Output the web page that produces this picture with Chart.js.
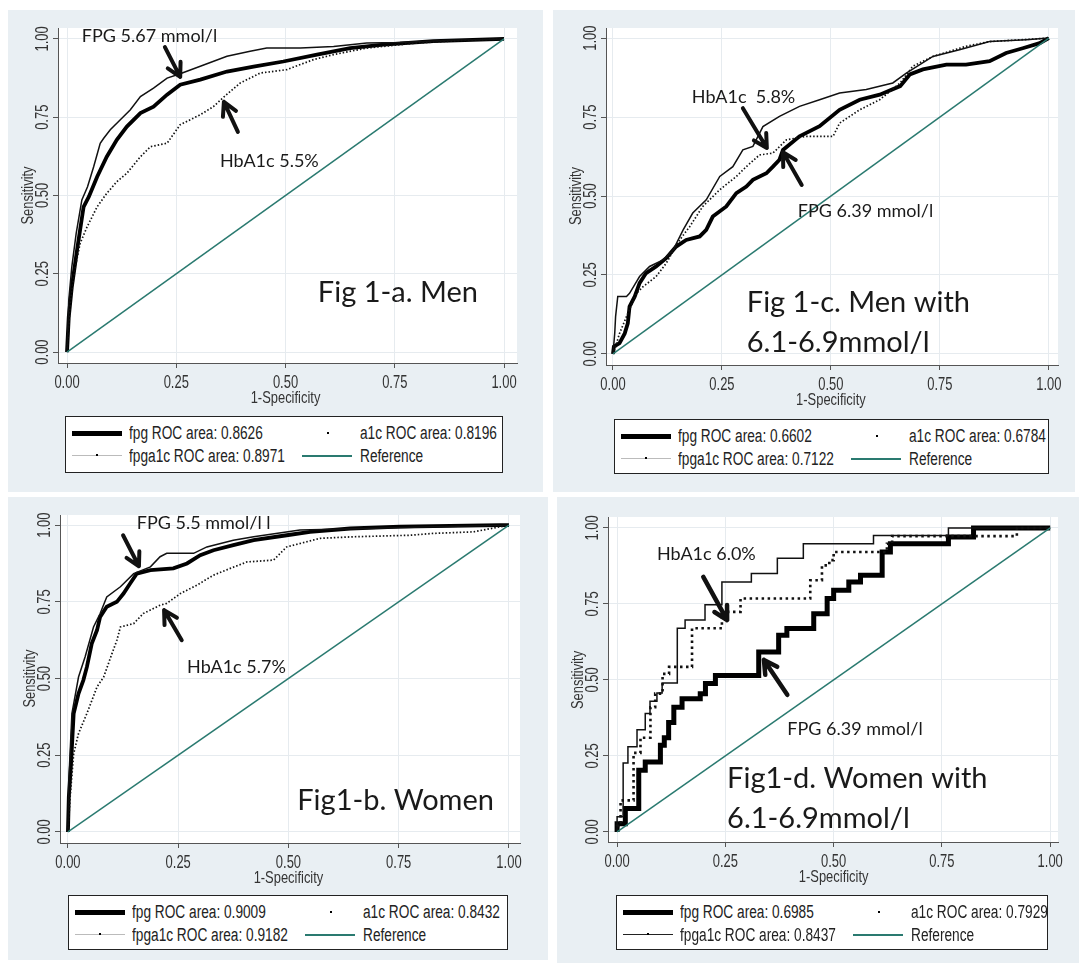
<!DOCTYPE html>
<html>
<head>
<meta charset="utf-8">
<script src="https://cdn.jsdelivr.net/npm/chart.js@4.4.1/dist/chart.umd.min.js"></script>
<style>
html, body { margin: 0; padding: 0; background: #fff; }
body { width: 1079px; height: 963px; position: relative; overflow: hidden; }
.panel { position: absolute; background: #e9eff3; }
.panel canvas { position: absolute; left: 0; top: 0; }
.legend { position: absolute; background: #fff; border: 1px solid #222; box-sizing: border-box;
  font-family: "Liberation Sans", Arial, sans-serif; font-size: 18px; color: #222; }
.legend div { position: absolute; }
.legend .txt { white-space: nowrap; line-height: 18px; transform: scaleX(0.76); transform-origin: 0 50%; }
</style>
</head>
<body>
<script>
// ticks shared by every panel
let tickVals = [0, 0.25, 0.5, 0.75, 1];
let tickLabels = ['0.00', '0.25', '0.50', '0.75', '1.00'];
let refLine = [[0, 0], [1, 1]];

// Fig 1-a Men  [1-specificity, sensitivity]
let menFpg = [[0,0],[0.004,0.112],[0.011,0.208],[0.023,0.326],[0.038,0.464],[0.05,0.496],[0.069,0.56],[0.091,0.624],[0.114,0.678],[0.137,0.72],[0.168,0.763],[0.198,0.784],[0.229,0.822],[0.259,0.854],[0.305,0.87],[0.366,0.896],[0.427,0.912],[0.495,0.928],[0.572,0.95],[0.648,0.971],[0.724,0.982],[0.838,0.993],[1,1]];
let menA1c = [[0,0],[0.008,0.165],[0.019,0.272],[0.03,0.347],[0.046,0.4],[0.069,0.464],[0.091,0.507],[0.114,0.544],[0.137,0.571],[0.168,0.624],[0.191,0.656],[0.229,0.667],[0.259,0.726],[0.305,0.758],[0.335,0.784],[0.36,0.816],[0.396,0.859],[0.442,0.891],[0.503,0.902],[0.564,0.934],[0.61,0.95],[0.686,0.971],[0.8,0.987],[0.915,0.996],[1,1]];
let menFpgA1c = [[0,0],[0.004,0.165],[0.011,0.272],[0.021,0.379],[0.034,0.486],[0.047,0.528],[0.061,0.592],[0.076,0.667],[0.084,0.683],[0.099,0.71],[0.122,0.742],[0.145,0.774],[0.168,0.816],[0.198,0.843],[0.229,0.875],[0.259,0.889],[0.305,0.913],[0.366,0.945],[0.419,0.961],[0.457,0.971],[0.534,0.971],[0.61,0.976],[0.686,0.987],[0.762,0.989],[0.877,0.996],[1,1]];
let menAreas = [0.8626, 0.8196, 0.8971];

// Fig 1-c Men with 6.1-6.9 mmol/l
let menIfgFpg = [[0,0],[0.002,0.023],[0.015,0.034],[0.027,0.065],[0.034,0.097],[0.038,0.15],[0.05,0.182],[0.061,0.224],[0.076,0.256],[0.099,0.277],[0.122,0.303],[0.145,0.34],[0.168,0.361],[0.199,0.372],[0.214,0.393],[0.229,0.435],[0.26,0.467],[0.283,0.509],[0.306,0.53],[0.321,0.551],[0.352,0.572],[0.367,0.593],[0.382,0.615],[0.39,0.646],[0.428,0.689],[0.474,0.721],[0.52,0.773],[0.566,0.805],[0.612,0.821],[0.659,0.848],[0.681,0.885],[0.711,0.901],[0.765,0.916],[0.81,0.916],[0.864,0.927],[0.902,0.953],[0.94,0.968],[0.979,0.984],[1,1]];
let menIfgA1c = [[0,0],[0.006,0.023],[0.015,0.065],[0.031,0.118],[0.054,0.192],[0.069,0.213],[0.099,0.245],[0.122,0.287],[0.153,0.361],[0.176,0.403],[0.206,0.467],[0.245,0.52],[0.283,0.562],[0.306,0.593],[0.336,0.63],[0.367,0.636],[0.398,0.678],[0.443,0.689],[0.505,0.689],[0.52,0.731],[0.566,0.773],[0.612,0.805],[0.659,0.858],[0.688,0.911],[0.734,0.942],[0.81,0.974],[0.864,0.989],[0.94,0.995],[1,1]];
let menIfgFpgA1c = [[0,0],[0.004,0.065],[0.006,0.118],[0.011,0.182],[0.031,0.182],[0.038,0.192],[0.061,0.245],[0.084,0.277],[0.115,0.298],[0.138,0.329],[0.161,0.393],[0.183,0.446],[0.214,0.488],[0.245,0.562],[0.275,0.593],[0.298,0.646],[0.321,0.657],[0.344,0.72],[0.382,0.752],[0.428,0.784],[0.474,0.805],[0.52,0.826],[0.581,0.837],[0.642,0.858],[0.673,0.889],[0.734,0.942],[0.795,0.963],[0.864,0.989],[0.948,0.995],[1,1]];
let menIfgAreas = [0.6602, 0.6784, 0.7122];

// Fig 1-b Women
let womenFpg = [[0,0],[0.002,0.114],[0.007,0.223],[0.013,0.386],[0.024,0.451],[0.035,0.495],[0.043,0.538],[0.054,0.614],[0.066,0.658],[0.073,0.701],[0.088,0.734],[0.111,0.75],[0.126,0.777],[0.141,0.81],[0.156,0.842],[0.187,0.853],[0.239,0.859],[0.27,0.875],[0.3,0.902],[0.33,0.918],[0.375,0.935],[0.421,0.951],[0.496,0.967],[0.549,0.978],[0.64,0.989],[0.753,0.995],[0.98,1],[1,1]];
let womenA1c = [[0,0],[0.005,0.114],[0.013,0.255],[0.024,0.321],[0.043,0.386],[0.066,0.473],[0.081,0.505],[0.1,0.582],[0.111,0.625],[0.119,0.668],[0.149,0.679],[0.171,0.712],[0.209,0.739],[0.224,0.745],[0.255,0.777],[0.292,0.804],[0.33,0.837],[0.368,0.859],[0.406,0.88],[0.466,0.886],[0.496,0.929],[0.572,0.957],[0.647,0.962],[0.776,0.967],[0.828,0.973],[0.919,0.978],[1,1]];
let womenFpgA1c = [[0,0],[0.002,0.168],[0.009,0.386],[0.024,0.505],[0.039,0.571],[0.058,0.668],[0.073,0.712],[0.088,0.766],[0.119,0.799],[0.149,0.842],[0.187,0.864],[0.209,0.897],[0.224,0.908],[0.285,0.908],[0.315,0.929],[0.375,0.951],[0.421,0.962],[0.526,0.984],[0.677,0.989],[0.828,0.995],[1,1]];
let womenAreas = [0.9009, 0.8432, 0.9182];

// Fig 1-d Women with 6.1-6.9 mmol/l (staircase corners)
let womenIfgFpg = [[0,0],[0.019,0.027],[0.05,0.077],[0.065,0.203],[0.1,0.23],[0.109,0.285],[0.119,0.31],[0.131,0.36],[0.15,0.41],[0.192,0.438],[0.204,0.455],[0.227,0.488],[0.327,0.515],[0.373,0.592],[0.392,0.647],[0.454,0.669],[0.485,0.718],[0.5,0.768],[0.535,0.795],[0.562,0.822],[0.612,0.844],[0.631,0.921],[0.765,0.948],[0.823,0.97],[1,1]];
let womenIfgA1c = [[0,0],[0.008,0.02],[0.038,0.104],[0.054,0.26],[0.077,0.31],[0.088,0.41],[0.105,0.455],[0.12,0.52],[0.173,0.543],[0.242,0.67],[0.285,0.724],[0.446,0.768],[0.473,0.828],[0.49,0.877],[0.5,0.894],[0.623,0.921],[0.635,0.948],[0.923,0.973],[1,1]];
let womenIfgFpgA1c = [[0,0],[0.014,0.05],[0.025,0.227],[0.046,0.28],[0.065,0.336],[0.076,0.39],[0.092,0.43],[0.104,0.457],[0.139,0.49],[0.157,0.67],[0.203,0.697],[0.242,0.747],[0.31,0.822],[0.37,0.85],[0.43,0.9],[0.592,0.948],[0.765,0.975],[1,1]];
let womenIfgAreas = [0.6985, 0.7929, 0.8437];

let teal = '#2a7a70'
let SANS = '"Liberation Sans", Arial, sans-serif'
let NOTE = 'Lato, "Open Sans", sans-serif'

// panel layout: box = left, top, width, height on the page; area = plot region inside the box
let panels = [
    { box: [8, 10, 535, 482], area: [50, 18, 509, 353], xr: [-0.0206, 1.0297], yr: [-0.035, 1.035], legend: [57, 406, 438, 57],
      fpg: menFpg, a1c: menA1c, combo: menFpgA1c, areas: menAreas, stepped: false, fpgW: 3.8,
      texts: [['FPG 5.67 mmol/l', 0.034, 0.99, 18], ['HbA1c 5.5%', 0.35, 0.59, 18], ['Fig 1-a. Men', 0.574, 0.16, 29]],
      arrows: [[0.224, 0.974, 0.259, 0.879], [0.391, 0.703, 0.359, 0.799]] },
    { box: [553, 10, 522, 482], area: [53, 18, 505, 355], xr: [-0.016, 1.021], yr: [-0.035, 1.032], legend: [61, 409, 435, 55],
      fpg: menIfgFpg, a1c: menIfgA1c, combo: menIfgFpgA1c, areas: menIfgAreas, stepped: false, fpgW: 3.8,
      texts: [['HbA1c  5.8%', 0.181, 0.794, 18], ['FPG 6.39 mmol/l', 0.424, 0.434, 18], ['Fig 1-c. Men with', 0.307, 0.133, 29], ['6.1-6.9mmol/l', 0.307, 0.006, 29]],
      arrows: [[0.298, 0.778, 0.353, 0.652], [0.433, 0.535, 0.39, 0.639]] },
    { box: [8, 497, 540, 463], area: [52, 18, 512, 346], xr: [-0.018, 1.025], yr: [-0.036, 1.033], legend: [60, 398, 440, 55],
      fpg: womenFpg, a1c: womenA1c, combo: womenFpgA1c, areas: womenAreas, stepped: false, fpgW: 3.8,
      texts: [['FPG 5.5 mmol/l l', 0.156, 0.987, 18], ['HbA1c 5.7%', 0.27, 0.518, 18], ['Fig1-b. Women', 0.52, 0.072, 29]],
      arrows: [[0.125, 0.967, 0.161, 0.866], [0.258, 0.625, 0.218, 0.723]] },
    { box: [557, 497, 522, 466], area: [51, 20, 501, 345], xr: [-0.021, 1.018], yr: [-0.033, 1.036], legend: [59, 398, 432, 55],
      fpg: womenIfgFpg, a1c: womenIfgA1c, combo: womenIfgFpgA1c, areas: womenIfgAreas, stepped: 'after', fpgW: 5,
      texts: [['HbA1c 6.0%', 0.092, 0.895, 18], ['FPG 6.39 mmol/l', 0.393, 0.319, 18], ['Fig1-d. Women with', 0.254, 0.145, 29], ['6.1-6.9mmol/l', 0.254, 0.013, 29]],
      arrows: [[0.199, 0.839, 0.254, 0.697], [0.393, 0.451, 0.339, 0.566]] }
]

function pts(arr) {
    return arr.map(([x, y]) => ({ x: x, y: y }))
}

// 窄體文字 (rot: 旋轉)
function narrowText(ctx, t, x, y, size, squeeze, rot) {
    ctx.save()
    ctx.translate(x, y)
    if (rot) ctx.rotate(-Math.PI / 2)
    ctx.scale(squeeze, 1)
    ctx.font = size + 'px ' + SANS
    ctx.fillText(t, 0, 0)
    ctx.restore()
}

function drawArrow(ctx, x1, y1, x2, y2, w) {
    let ang = Math.atan2(y2 - y1, x2 - x1)
    let head = 15
    ctx.save()
    ctx.strokeStyle = '#111'
    ctx.lineWidth = w
    ctx.lineCap = 'round'
    ctx.lineJoin = 'round'
    ctx.beginPath()
    ctx.moveTo(x1, y1)
    ctx.lineTo(x2, y2)
    ctx.moveTo(x2 - head * Math.cos(ang - 0.5), y2 - head * Math.sin(ang - 0.5))
    ctx.lineTo(x2, y2)
    ctx.lineTo(x2 - head * Math.cos(ang + 0.5), y2 - head * Math.sin(ang + 0.5))
    ctx.stroke()
    ctx.restore()
}

function makeLegend(div, p) {
    let [l, t, w, h] = p.legend
    let lg = document.createElement('div')
    lg.className = 'legend'
    lg.style.cssText = `left:${l}px;top:${t}px;width:${w}px;height:${h}px;`
    let lineCol = p.stepped ? '#222' : '#bbb'
    lg.innerHTML =
        `<div style="left:6px;top:14px;width:50px;height:5px;background:#000"></div>` +
        `<div class="txt" style="left:63px;top:7px">fpg ROC area: ${p.areas[0].toFixed(4)}</div>` +
        `<div style="left:261px;top:15px;width:2px;height:2px;background:#000"></div>` +
        `<div class="txt" style="left:294px;top:7px">a1c ROC area: ${p.areas[1].toFixed(4)}</div>` +
        `<div style="left:6px;top:38px;width:50px;height:1px;background:${lineCol}"></div>` +
        `<div style="left:30px;top:37px;width:2px;height:2px;background:#000"></div>` +
        `<div class="txt" style="left:63px;top:30px">fpga1c ROC area: ${p.areas[2].toFixed(4)}</div>` +
        `<div style="left:236px;top:38px;width:50px;height:1.5px;background:${teal}"></div>` +
        `<div class="txt" style="left:294px;top:30px">Reference</div>`
    div.appendChild(lg)
}

function makePanel(p) {
    let [bl, bt, bw, bh] = p.box
    let [al, at, ar, ab] = p.area
    let div = document.createElement('div')
    div.className = 'panel'
    div.style.cssText = `left:${bl}px;top:${bt}px;width:${bw}px;height:${bh}px;`
    let cv = document.createElement('canvas')
    cv.width = bw
    cv.height = bh
    cv.style.width = bw + 'px'
    cv.style.height = bh + 'px'
    div.appendChild(cv)
    document.body.appendChild(div)
    makeLegend(div, p)

    // 白色繪圖區 + 刻度文字 + 標註
    let deco = {
        id: 'deco',
        beforeDraw(chart) {
            let a = chart.chartArea
            chart.ctx.save()
            chart.ctx.fillStyle = '#fff'
            chart.ctx.fillRect(a.left, a.top, a.right - a.left, a.bottom - a.top)
            chart.ctx.restore()
        },
        afterDraw(chart) {
            let ctx = chart.ctx
            let a = chart.chartArea
            let xs = chart.scales.x, ys = chart.scales.y
            ctx.save()
            ctx.fillStyle = '#333'
            ctx.textAlign = 'center'
            ctx.textBaseline = 'middle'
            tickVals.forEach((v, i) => {
                narrowText(ctx, tickLabels[i], xs.getPixelForValue(v), a.bottom + 20, 18, 0.72, false)
                narrowText(ctx, tickLabels[i], a.left - 15, ys.getPixelForValue(v), 18, 0.72, true)
            })
            narrowText(ctx, '1-Specificity', xs.getPixelForValue(0.5), a.bottom + 35, 17, 0.76, false)
            narrowText(ctx, 'Sensitivity', a.left - 30, ys.getPixelForValue(0.5), 17, 0.76, true)

            ctx.fillStyle = '#1a1a1a'
            ctx.textAlign = 'left'
            ctx.textBaseline = 'alphabetic'
            p.texts.forEach(([t, x, y, size]) => {
                ctx.font = size + 'px ' + NOTE
                ctx.fillText(t, xs.getPixelForValue(x), ys.getPixelForValue(y))
            })
            p.arrows.forEach(([x1, y1, x2, y2]) => {
                drawArrow(ctx, xs.getPixelForValue(x1), ys.getPixelForValue(y1),
                    xs.getPixelForValue(x2), ys.getPixelForValue(y2), p.stepped ? 4.5 : 4)
            })
            ctx.restore()
        }
    }

    let dotW = p.stepped ? 2.6 : 1.7
    let dash = p.stepped ? [2.5, 3.5] : [1.5, 2]
    return new Chart(cv, {
        type: 'scatter',
        data: {
            datasets: [
                { label: 'Reference', data: pts(refLine), borderColor: teal, borderWidth: 1.5 },
                { label: 'a1c', data: pts(p.a1c), borderColor: '#111', borderWidth: dotW, borderDash: dash, stepped: p.stepped },
                { label: 'fpga1c', data: pts(p.combo), borderColor: '#111', borderWidth: 1.5, stepped: p.stepped },
                { label: 'fpg', data: pts(p.fpg), borderColor: '#000', borderWidth: p.fpgW, stepped: p.stepped }
            ]
        },
        options: {
            animation: false,
            responsive: false,
            devicePixelRatio: 1,
            showLine: true,
            elements: { point: { radius: 0 }, line: { borderJoinStyle: 'miter', tension: 0 } },
            layout: { autoPadding: false, padding: { left: 0, top: at, right: bw - ar, bottom: 0 } },
            plugins: { legend: { display: false }, tooltip: { enabled: false } },
            scales: {
                x: {
                    type: 'linear', min: p.xr[0], max: p.xr[1],
                    afterBuildTicks: s => { s.ticks = tickVals.map(v => ({ value: v })) },
                    afterFit: s => { s.height = bh - ab },
                    ticks: { display: false },
                    grid: { color: '#e6ebef', tickColor: '#555', tickLength: 5, drawTicks: true },
                    border: { color: '#555', width: 1 }
                },
                y: {
                    type: 'linear', min: p.yr[0], max: p.yr[1],
                    afterBuildTicks: s => { s.ticks = tickVals.map(v => ({ value: v })) },
                    afterFit: s => { s.width = al },
                    ticks: { display: false },
                    grid: { color: '#e6ebef', tickColor: '#555', tickLength: 5, drawTicks: true },
                    border: { color: '#555', width: 1 }
                }
            }
        },
        plugins: [deco]
    })
}

panels.forEach(p => makePanel(p))
</script>
</body>
</html>
